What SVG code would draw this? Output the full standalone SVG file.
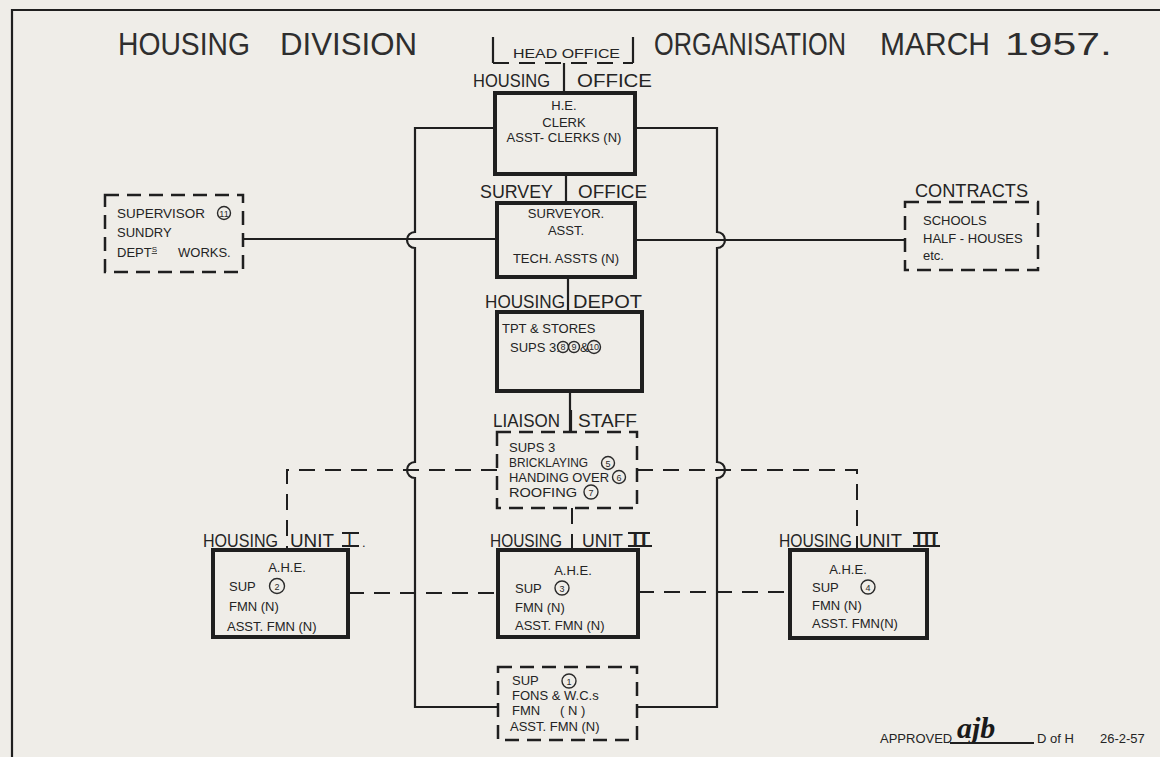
<svg xmlns="http://www.w3.org/2000/svg" width="1160" height="757" viewBox="0 0 1160 757">
<style>
.t{font-family:"Liberation Sans",Arial,sans-serif;font-size:13px;fill:#242424}
.lb{font-family:"Liberation Sans",Arial,sans-serif;font-size:18px;fill:#242424}
.ti{font-family:"Liberation Sans",Arial,sans-serif;font-size:31px;fill:#2e2e2e}
.sb{fill:none;stroke:#1f1f1f;stroke-width:4}
.db{fill:none;stroke:#1f1f1f;stroke-width:2.5;stroke-dasharray:14 8}
.ln{fill:none;stroke:#1f1f1f;stroke-width:2.2}
.dl{fill:none;stroke:#1f1f1f;stroke-width:2;stroke-dasharray:16 10}
.c{fill:none;stroke:#2a2a2a;stroke-width:1.4}
.cn{font-family:"Liberation Sans",Arial,sans-serif;font-size:9px;fill:#2a2a2a;text-anchor:middle}
.m{text-anchor:middle}
</style>
<rect width="1160" height="757" fill="#efede8"/>
<g id="border">
<path class="ln" d="M12,757 V10 H1160"/>
</g>
<g id="title">
<text class="ti" x="118" y="55" textLength="132" lengthAdjust="spacingAndGlyphs">HOUSING</text>
<text class="ti" x="280" y="55" textLength="137" lengthAdjust="spacingAndGlyphs">DIVISION</text>
<text class="ti" x="654" y="55" textLength="192" lengthAdjust="spacingAndGlyphs">ORGANISATION</text>
<text class="ti" x="880" y="55" textLength="110" lengthAdjust="spacingAndGlyphs">MARCH</text>
<text class="ti" x="1005" y="55" textLength="107" lengthAdjust="spacingAndGlyphs">1957.</text>
</g>
<g id="connectors">
<path class="ln" d="M496,128 H415 V232 A8,8 0 0 0 415,248 V462 A8,8 0 0 0 415,478 V707 H498"/>
<path class="ln" d="M634,128 H717 V232 A8,8 0 0 1 717,248 V462 A8,8 0 0 1 717,478 V707 H637"/>
<path class="ln" d="M243,239 H497"/>
<path class="ln" d="M635,240 H905"/>
<path class="ln" d="M564,63 V93"/>
<path class="ln" d="M566,174 V203"/>
<path class="ln" d="M568,277 V312"/>
<path class="ln" d="M570,391 V432"/>
<path class="dl" d="M572,508 V550"/>
<path class="dl" d="M497,470 H287 V550"/>
<path class="dl" d="M637,470 H857 V550"/>
<path class="dl" d="M348,593 H498"/>
<path class="dl" d="M638,592 H790"/>
</g>
<g id="head-office">
<path class="ln" d="M493,37 V63 M633,37 V63"/>
<path class="dl" d="M493,63 H633"/>
<text class="t" x="513" y="58" font-size="12" textLength="107" lengthAdjust="spacingAndGlyphs">HEAD  OFFICE</text>
</g>
<g id="housing-office">
<text class="lb" x="473" y="87" textLength="77" lengthAdjust="spacingAndGlyphs">HOUSING</text>
<text class="lb" x="577" y="87" textLength="75" lengthAdjust="spacingAndGlyphs">OFFICE</text>
<rect class="sb" x="495" y="93" width="140" height="81"/>
<text class="t m" x="564" y="110">H.E.</text>
<text class="t m" x="564" y="127">CLERK</text>
<text class="t m" x="564" y="142">ASST- CLERKS (N)</text>
</g>
<g id="survey-office">
<text class="lb" x="480" y="198" textLength="73" lengthAdjust="spacingAndGlyphs">SURVEY</text>
<text class="lb" x="578" y="198" textLength="69" lengthAdjust="spacingAndGlyphs">OFFICE</text>
<rect class="sb" x="497" y="203" width="138" height="74"/>
<text class="t m" x="566" y="218">SURVEYOR.</text>
<text class="t m" x="566" y="235">ASST.</text>
<text class="t m" x="566" y="263">TECH. ASSTS  (N)</text>
</g>
<g id="supervisor">
<rect class="db" x="105" y="195" width="138" height="77"/>
<text class="t" x="117" y="218" textLength="88" lengthAdjust="spacingAndGlyphs">SUPERVISOR</text>
<circle class="c" cx="224" cy="213" r="6.5"/>
<text class="cn" x="224" y="216.5">11</text>
<text class="t" x="117" y="237">SUNDRY</text>
<text class="t" x="117" y="257">DEPT<tspan font-size="8" dy="-5" text-decoration="underline">S</tspan><tspan dy="5" x="178">WORKS.</tspan></text>
</g>
<g id="contracts">
<text class="lb" x="915" y="197" textLength="113" lengthAdjust="spacingAndGlyphs">CONTRACTS</text>
<rect class="db" x="905" y="202" width="133" height="68"/>
<text class="t" x="923" y="225">SCHOOLS</text>
<text class="t" x="923" y="243">HALF - HOUSES</text>
<text class="t" x="923" y="260" font-size="12">etc.</text>
</g>
<g id="housing-depot">
<text class="lb" x="485" y="308" textLength="80" lengthAdjust="spacingAndGlyphs">HOUSING</text>
<text class="lb" x="573" y="308" textLength="69" lengthAdjust="spacingAndGlyphs">DEPOT</text>
<rect class="sb" x="497" y="312" width="145" height="79"/>
<text class="t" x="502" y="333">TPT &amp; STORES</text>
<text class="t" x="510" y="352">SUPS 3.</text>
<circle class="c" cx="563" cy="347" r="5.5"/>
<text class="cn" x="563" y="350" font-size="8">8</text>
<circle class="c" cx="574" cy="347" r="5.5"/>
<text class="cn" x="574" y="350" font-size="8">9</text>
<text class="t" x="580" y="352" font-size="10">&amp;</text>
<circle class="c" cx="594" cy="347" r="6.5"/>
<text class="cn" x="594" y="350" font-size="8">10</text>
</g>
<g id="liaison-staff">
<text class="lb" x="493" y="427" textLength="67" lengthAdjust="spacingAndGlyphs">LIAISON</text>
<text class="lb" x="578" y="427" textLength="59" lengthAdjust="spacingAndGlyphs">STAFF</text>
<path class="ln" d="M571,410 V432"/>
<rect class="db" x="497" y="432" width="140" height="76"/>
<text class="t" x="509" y="452" font-size="12">SUPS  3</text>
<text class="t" x="509" y="467" font-size="12" textLength="79" lengthAdjust="spacingAndGlyphs">BRICKLAYING</text>
<circle class="c" cx="608" cy="463" r="6.5"/>
<text class="cn" x="608" y="466.5">5</text>
<text class="t" x="509" y="482" font-size="12" textLength="100" lengthAdjust="spacingAndGlyphs">HANDING OVER</text>
<circle class="c" cx="619" cy="477" r="6.5"/>
<text class="cn" x="619" y="480.5">6</text>
<text class="t" x="509" y="497" font-size="12" textLength="68" lengthAdjust="spacingAndGlyphs">ROOFING</text>
<circle class="c" cx="591" cy="492" r="7"/>
<text class="cn" x="591" y="495.5">7</text>
</g>
<g id="housing-unit-1">
<text class="lb" x="203" y="547" textLength="75" lengthAdjust="spacingAndGlyphs">HOUSING</text>
<text class="lb" x="290" y="547" textLength="44" lengthAdjust="spacingAndGlyphs">UNIT</text>
<text class="lb" x="347" y="546" font-family="Liberation Serif">I</text>
<path class="ln" d="M342,533 H359 M342,546 H359" stroke-width="1.6"/>
<text class="t" x="362" y="547">.</text>
<rect class="sb" x="213" y="550" width="135" height="87"/>
<text class="t m" x="287" y="572">A.H.E.</text>
<text class="t" x="229" y="591">SUP</text>
<circle class="c" cx="277" cy="586" r="7.5"/>
<text class="cn" x="277" y="590" font-size="10">2</text>
<text class="t" x="229" y="611">FMN  (N)</text>
<text class="t" x="227" y="631">ASST. FMN  (N)</text>
</g>
<g id="housing-unit-2">
<text class="lb" x="490" y="547" textLength="72" lengthAdjust="spacingAndGlyphs">HOUSING</text>
<text class="lb" x="582" y="547" textLength="41" lengthAdjust="spacingAndGlyphs">UNIT</text>
<text class="lb" x="631" y="546" font-family="Liberation Serif" textLength="17" lengthAdjust="spacingAndGlyphs">II</text>
<path class="ln" d="M628,533 H650 M628,546 H652" stroke-width="1.6"/>
<rect class="sb" x="498" y="550" width="140" height="87"/>
<text class="t m" x="573" y="575">A.H.E.</text>
<text class="t" x="515" y="593">SUP</text>
<circle class="c" cx="562" cy="588" r="7"/>
<text class="cn" x="562" y="591.5">3</text>
<text class="t" x="515" y="612">FMN  (N)</text>
<text class="t" x="515" y="630">ASST. FMN   (N)</text>
</g>
<g id="housing-unit-3">
<text class="lb" x="779" y="547" font-size="16.5" textLength="73" lengthAdjust="spacingAndGlyphs">HOUSING</text>
<text class="lb" x="859" y="547" textLength="43" lengthAdjust="spacingAndGlyphs">UNIT</text>
<text class="lb" x="915" y="546" font-family="Liberation Serif" textLength="23" lengthAdjust="spacingAndGlyphs">III</text>
<path class="ln" d="M913,533 H938 M913,546 H940" stroke-width="1.6"/>
<rect class="sb" x="790" y="550" width="137" height="88"/>
<text class="t m" x="848" y="574">A.H.E.</text>
<text class="t" x="812" y="592">SUP</text>
<circle class="c" cx="868" cy="587" r="7"/>
<text class="cn" x="868" y="590.5">4</text>
<text class="t" x="812" y="610">FMN   (N)</text>
<text class="t" x="812" y="628">ASST. FMN(N)</text>
</g>
<g id="fons-wcs">
<rect class="db" x="498" y="667" width="139" height="73"/>
<text class="t" x="512" y="685">SUP</text>
<circle class="c" cx="569" cy="681" r="7"/>
<text class="cn" x="569" y="684.5">1</text>
<text class="t" x="512" y="700">FONS  &amp;  W.C.s</text>
<text class="t" x="512" y="715">FMN</text>
<text class="t" x="560" y="715">( N )</text>
<text class="t" x="510" y="731">ASST. FMN  (N)</text>
</g>
<g id="approval">
<text class="t" x="880" y="743" font-size="9">APPROVED</text>
<text x="957" y="738" font-family="Liberation Serif" font-style="italic" font-weight="bold" font-size="30" fill="#1a1a1a">ajb</text>
<path class="ln" d="M950,743 H1034" stroke-width="1.3"/>
<text class="t" x="1037" y="743" font-size="9">D of H</text>
<text class="t" x="1100" y="743" font-size="9">26-2-57</text>
</g>
</svg>
